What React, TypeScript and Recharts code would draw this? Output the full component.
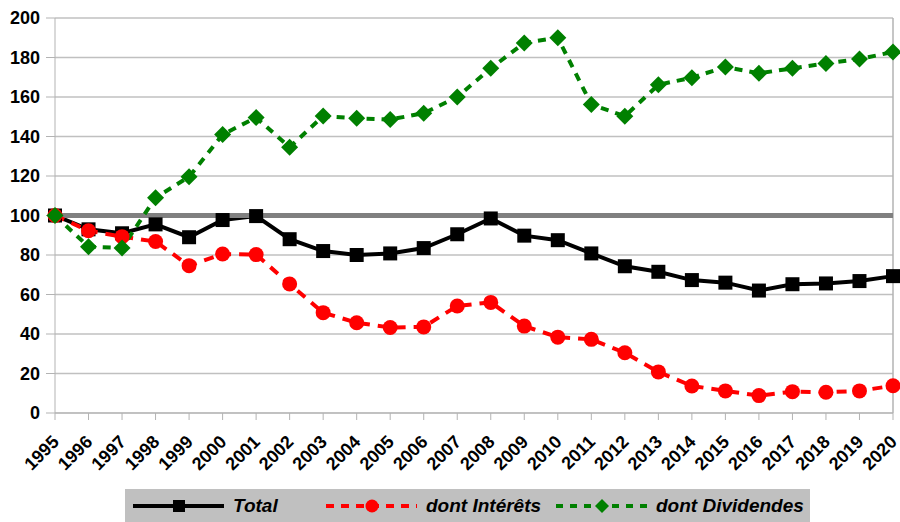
import React from "react";
import {
  CartesianGrid,
  Legend,
  Line,
  LineChart,
  ReferenceLine,
  XAxis,
  YAxis,
} from "recharts";

const years = [
  1995, 1996, 1997, 1998, 1999, 2000, 2001, 2002, 2003, 2004, 2005, 2006, 2007,
  2008, 2009, 2010, 2011, 2012, 2013, 2014, 2015, 2016, 2017, 2018, 2019, 2020,
];
const total = [
  100, 93, 91, 95.5, 89, 97.7, 99.7, 88, 82, 80, 80.8, 83.5, 90.5, 98.5, 89.8,
  87.5, 80.8, 74.3, 71.5, 67.3, 66, 62, 65.2, 65.6, 66.8, 69.3,
];
const interets = [
  100, 92.3, 89.3, 86.8, 74.6, 80.5, 80.2, 65.3, 50.8, 45.7, 43.3, 43.6, 54.2,
  56, 44, 38.4, 37.3, 30.5, 20.8, 13.7, 11.2, 8.8, 10.8, 10.5, 11.2, 13.8,
];
const dividendes = [
  100, 84.2, 83.6, 109, 119.6, 141, 149.6, 134.5, 150.4, 149.2, 148.6, 151.8,
  160, 174.5, 187.4, 190, 156.2, 150.3, 166.2, 169.8, 175.2, 172, 174.5, 177,
  179.2, 182.8,
];
const yTicks = [0, 20, 40, 60, 80, 100, 120, 140, 160, 180, 200];

const data = years.map((y, i) => ({
  year: y,
  total: total[i],
  interets: interets[i],
  dividendes: dividendes[i],
}));

const FONT = "'Liberation Sans', Arial, sans-serif";

const XTick = (props: any) => {
  const { x, y, payload } = props;
  return (
    <g transform={`translate(${x + 5},${y + 23})`}>
      <text
        transform="rotate(-45)"
        textAnchor="end"
        fontFamily={FONT}
        fontWeight="bold"
        fontSize={18}
        fill="#000"
      >
        {payload.value}
      </text>
    </g>
  );
};

const squareDot = (p: any) => (
  <rect key={`s${p.index}`} x={p.cx - 7} y={p.cy - 7} width={14} height={14} fill="#000" />
);
const circleDot = (p: any) => (
  <circle key={`c${p.index}`} cx={p.cx} cy={p.cy} r={7.5} fill="#ff0000" />
);
const diamondDot = (p: any) => (
  <polygon
    key={`d${p.index}`}
    points={`${p.cx},${p.cy - 8.5} ${p.cx + 8.5},${p.cy} ${p.cx},${p.cy + 8.5} ${p.cx - 8.5},${p.cy}`}
    fill="#008000"
  />
);

const legendItems = [
  { name: "Total", color: "#000", dash: undefined, marker: "square", left: 8 },
  { name: "dont Intérêts", color: "#ff0000", dash: "8 7", marker: "circle", left: 201 },
  { name: "dont Dividendes", color: "#008000", dash: "7 7", marker: "diamond", left: 431 },
];

const LegendBox = () => (
  <div
    style={{
      position: "relative",
      background: "#c0c0c0",
      height: 33,
      width: 685,
      fontFamily: FONT,
      fontWeight: "bold",
      fontStyle: "italic",
      fontSize: 19,
      color: "#000",
    }}
  >
    {legendItems.map((it) => (
      <div
        key={it.name}
        style={{
          position: "absolute",
          left: it.left,
          top: 0,
          height: 33,
          display: "flex",
          alignItems: "center",
          whiteSpace: "nowrap",
        }}
      >
        <svg width={91} height={20}>
          <line x1={0} y1={10} x2={91} y2={10} stroke={it.color} strokeWidth={4} strokeDasharray={it.dash} />
          {it.marker === "square" && <rect x={40} y={4} width={12} height={12} fill={it.color} />}
          {it.marker === "circle" && <circle cx={46} cy={10} r={6.5} fill={it.color} />}
          {it.marker === "diamond" && <polygon points="46,3 53,10 46,17 39,10" fill={it.color} />}
        </svg>
        <span style={{ marginLeft: 9 }}>{it.name}</span>
      </div>
    ))}
  </div>
);

export default function App() {
  return (
    <div style={{ position: "absolute", left: 0, top: 0, background: "#fff" }}>
      <LineChart
        width={900}
        height={522}
        data={data}
        margin={{ top: 18, right: 7, left: 0, bottom: 0 }}
      >
        <CartesianGrid vertical={false} stroke="#c0c0c0" strokeWidth={1.5} />
        <XAxis
          dataKey="year"
          type="number"
          domain={[1995, 2020]}
          ticks={years}
          interval={0}
          height={76}
          stroke="#b3b3b3"
          tickSize={7}
          tickMargin={0}
          tick={<XTick />}
        />
        <YAxis
          domain={[0, 200]}
          ticks={yTicks}
          width={55}
          stroke="#b3b3b3"
          tickSize={9}
          tickMargin={6}
          tick={{ fontFamily: FONT, fontWeight: "bold", fontSize: 18, fill: "#000" }}
        />
        <ReferenceLine x={2020} stroke="#b3b3b3" strokeWidth={1.5} />
        <Legend
          verticalAlign="bottom"
          height={33}
          content={<LegendBox />}
          wrapperStyle={{ left: 125, bottom: 0, width: 685, height: 33 }}
        />
        <Line
          dataKey="total"
          stroke="#000"
          strokeWidth={4}
          dot={squareDot}
          activeDot={false}
          isAnimationActive={false}
        />
        <ReferenceLine y={100} stroke="#808080" strokeWidth={5} />
        <Line
          dataKey="interets"
          stroke="#ff0000"
          strokeWidth={4}
          strokeDasharray="10 8"
          dot={circleDot}
          activeDot={false}
          isAnimationActive={false}
        />
        <Line
          dataKey="dividendes"
          stroke="#008000"
          strokeWidth={4}
          strokeDasharray="8 7"
          dot={diamondDot}
          activeDot={false}
          isAnimationActive={false}
        />
      </LineChart>
    </div>
  );
}
